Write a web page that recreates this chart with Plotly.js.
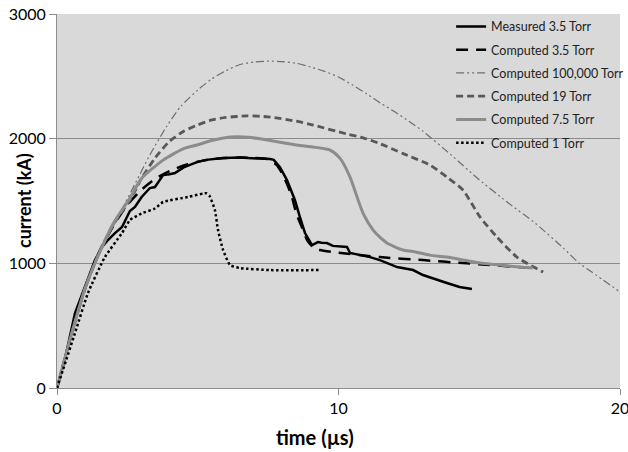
<!DOCTYPE html>
<html>
<head>
<meta charset="utf-8">
<script src="https://cdn.plot.ly/plotly-3.0.1.min.js"></script>
<style>html,body{margin:0;padding:0;background:#fff}#chart{width:628px;height:452px}</style>
</head>
<body>
<div id="chart"></div>
<script>
// Measured 3.5 Torr
var tMeas = [0,0.3,0.64,0.82,1.1,1.35,1.6,1.81,2.05,2.31,2.59,2.77,3.0,3.3,3.48,3.77,4.0,4.19,4.5,4.72,4.97,5.3,5.9,6.5,7.0,7.57,7.7,7.92,8.17,8.45,8.63,8.81,9.06,9.27,9.4,9.59,9.8,10.3,10.41,11.12,11.47,12.08,12.65,13.0,13.85,14.3,14.74];
var iMeas = [0,250,601,705,866,1026,1131,1187,1240,1291,1420,1452,1530,1604,1612,1708,1715,1724,1770,1788,1812,1830,1844,1848,1844,1836,1830,1772,1668,1508,1371,1243,1147,1171,1165,1163,1140,1131,1083,1050,1026,970,946,906,842,810,794];
// Computed 3.5 Torr
var tC35 = [0,0.5,1.0,1.5,2.0,2.5,3.0,3.5,4.0,4.5,5.0,5.5,6.0,6.5,7.0,7.5,7.8,8.0,8.2,8.35,8.5,8.7,8.9,9.1,9.34,10.0,11.47,13.0,14.42,16.9];
var iC35 = [0,420,800,1090,1300,1470,1590,1680,1740,1785,1815,1835,1845,1848,1845,1835,1790,1720,1620,1530,1400,1290,1180,1130,1107,1085,1050,1026,1002,962];
// Computed 100,000 Torr
var tC100k = [0,0.5,1.0,1.5,1.8,2.3,2.8,3.3,3.9,4.4,5.0,5.5,6.0,6.5,7.0,7.5,8.0,8.5,9.0,9.5,10.0,10.5,11.0,11.5,12.0,12.5,13.0,14.0,15.0,16.0,17.0,18.0,18.54,19.0,20.0];
var iC100k = [0,420,800,1080,1211,1430,1650,1870,2100,2260,2390,2480,2545,2595,2615,2622,2618,2605,2575,2540,2495,2430,2360,2285,2215,2140,2060,1870,1670,1490,1320,1120,1002,930,770];
// Computed 19 Torr
var tC19 = [0,0.5,1.0,1.5,2.0,2.66,3.0,3.5,4.0,4.5,5.0,5.5,6.0,6.75,7.5,8.5,9.1,10.3,10.9,11.47,12.3,13.25,13.85,14.42,15.03,15.63,16.34,17.27];
var iC19 = [0,420,800,1090,1310,1532,1680,1850,1980,2060,2110,2150,2170,2183,2175,2140,2109,2037,2005,1960,1880,1788,1692,1588,1371,1211,1050,930];
// Computed 7.5 Torr
var tC75 = [0,0.5,1.0,1.5,2.0,2.59,3.0,3.77,4.5,4.97,5.5,6.15,6.8,7.32,8.5,9.7,10.05,10.41,10.66,10.87,11.23,11.47,11.72,12.29,12.65,13.25,13.85,15.03,16.9];
var iC75 = [0,420,800,1080,1320,1524,1680,1828,1920,1949,1985,2013,2012,1995,1949,1909,1844,1692,1532,1403,1267,1210,1163,1107,1095,1066,1050,1002,962];
// Computed 1 Torr
var tC1 = [0,0.64,1.1,1.7,2.31,2.59,3.0,3.48,3.77,4.65,5.19,5.3,5.42,5.61,5.72,5.9,6.15,6.5,7.57,9.37];
var iC1 = [0,441,762,1050,1243,1347,1400,1440,1492,1532,1560,1562,1540,1427,1267,1107,986,962,946,946];

var names = ['Measured 3.5 Torr','Computed 3.5 Torr','Computed 100,000 Torr','Computed 19 Torr','Computed 7.5 Torr','Computed 1 Torr'];
var xTicks = [0,10,20];
var yTicks = [0,1000,2000,3000];
var xTitle = 'time (µs)';
var yTitle = 'current (kA)';

var traces = [
  {x:tMeas, y:iMeas, name:names[0], line:{color:'#000000', width:2.5}},
  {x:tC35, y:iC35, name:names[1], line:{color:'#000000', width:2.5, dash:'12px,8px', shape:'spline', smoothing:0.6}},
  {x:tC100k, y:iC100k, name:names[2], line:{color:'#6e6e6e', width:1.2, dash:'8px,3px,2px,3px,2px,3px', shape:'spline', smoothing:0.6}},
  {x:tC19, y:iC19, name:names[3], line:{color:'#585858', width:2.8, dash:'7px,4px', shape:'spline', smoothing:0.6}},
  {x:tC75, y:iC75, name:names[4], line:{color:'#8c8c8c', width:3, shape:'spline', smoothing:0.6}},
  {x:tC1, y:iC1, name:names[5], line:{color:'#000000', width:2.5, dash:'2.5px,2.5px', shape:'spline', smoothing:0.5}}
];
traces.forEach(function(t, k){ t.type='scatter'; t.mode='lines'; t.legendgroup='g'+k; });

var layout = {
  width:628, height:452,
  margin:{l:57, r:8, t:14, b:64, autoexpand:false},
  paper_bgcolor:'#ffffff',
  plot_bgcolor:'#d9d9d9',
  font:{family:'Lato, "Open Sans", sans-serif', color:'#000'},
  showlegend:true,
  legend:{x:0.70, y:1.006, xanchor:'left', yanchor:'top', bgcolor:'rgba(0,0,0,0)', borderwidth:0,
          font:{size:12.5, color:'#222'}, traceorder:'grouped', tracegroupgap:4, itemwidth:30},
  xaxis:{range:[0,20], tickvals:xTicks, ticktext:xTicks.map(String), showgrid:false, zeroline:false,
         showline:true, linecolor:'#8c8c8c', linewidth:1, ticks:'outside', ticklen:6, tickcolor:'#8c8c8c',
         tickfont:{size:16}, ticklabeloverflow:'allow', automargin:false},
  yaxis:{range:[0,3000], tickvals:yTicks, ticktext:yTicks.map(String), showgrid:true,
         gridcolor:'#8c8c8c', gridwidth:1, zeroline:false, showline:true, linecolor:'#8c8c8c', linewidth:1,
         ticks:'outside', ticklen:7, tickcolor:'#8c8c8c', tickfont:{size:16}, automargin:false},
  annotations:[
    {text:'<b>'+yTitle+'</b>', xref:'paper', yref:'paper', x:-0.0586, y:0.5, xanchor:'center', yanchor:'middle',
     textangle:-90, showarrow:false, font:{size:18, color:'#000'}},
    {text:'<b>'+xTitle+'</b>', xref:'paper', yref:'paper', x:0.458, y:-0.131, xanchor:'center', yanchor:'middle',
     showarrow:false, font:{size:20, color:'#000'}}
  ]
};
Plotly.newPlot('chart', traces, layout, {displayModeBar:false, staticPlot:true});
</script>
</body>
</html>
